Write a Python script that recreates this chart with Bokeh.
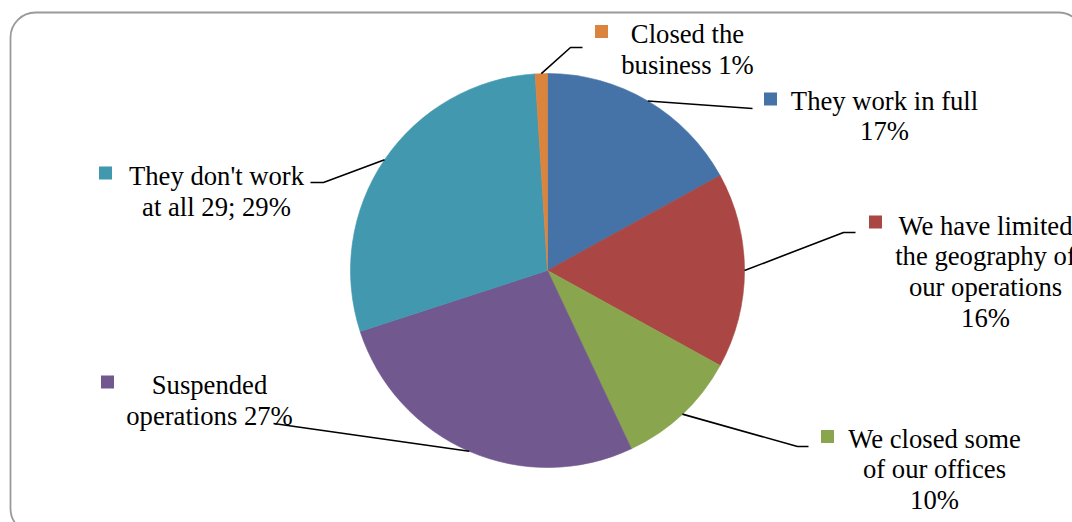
import math
from bokeh.plotting import figure
from bokeh.models import ColumnDataSource, Range1d, BoxAnnotation
from bokeh.core.properties import value
from bokeh.embed import file_html
from bokeh.resources import INLINE

# ---- data (clockwise from 12 o'clock) ----
categories = ["They work in full",
              "We have limited the geography of our operations",
              "We closed some of our offices",
              "Suspended operations",
              "They don't work at all 29;",
              "Closed the business"]
values = [17, 16, 10, 27, 29, 1]
colors = ["#4572A7", "#AA4643", "#89A54E", "#71588F", "#4198AF", "#DB843D"]

# ---- layout ----
W, H = 1072, 522
CX, CY, R = 547, 270, 197          # pixel coords (y down)
words_per_line = [[4, 1], [3, 3, 2, 1], [3, 3, 1], [1, 2], [3, 4], [2, 2]]
label_cx = [884, 985, 934, 209, 216, 687]
label_first_baseline = [100, 225, 438, 384.5, 175.5, 33.5]
line_gap = 30.67
key_pos = [(770, 98.5), (875, 221.5), (827, 436), (107, 381.5), (105, 172.5), (601, 31)]
leader_bends = [[(752, 108)],
                [(843, 232), (855, 232)],
                [(797, 446), (808, 446)],
                [(273, 423)],
                [(323, 182), (310, 182)],
                [(570, 47), (582, 47)]]

def Y(py):
    return H - py

p = figure(width=W, height=H, x_range=Range1d(0, W), y_range=Range1d(0, H),
           toolbar_location=None, output_backend="svg", min_border=0,
           x_axis_location=None, y_axis_location=None)
p.grid.visible = False
p.outline_line_color = None
p.background_fill_color = "white"
p.border_fill_color = "white"

# border (rounded rectangle)
p.add_layout(BoxAnnotation(left=10, right=1083, top=Y(12), bottom=Y(533),
                           fill_alpha=0, line_color="#9a9a9a", line_alpha=1.0,
                           line_width=1.8, border_radius=25))

# pie wedges
total = sum(values)
starts, ends, mids = [], [], []
acc = 0.0
for v in values:
    t0 = acc / total * 2 * math.pi
    acc += v
    t1 = acc / total * 2 * math.pi
    starts.append(math.pi / 2 - t0)
    ends.append(math.pi / 2 - t1)
    mids.append((t0 + t1) / 2)

src = ColumnDataSource(dict(x=[CX] * len(values), y=[Y(CY)] * len(values),
                            start=starts, end=ends, color=colors))
p.wedge(x="x", y="y", radius=R, start_angle="start", end_angle="end",
        direction="clock", fill_color="color", line_color="color",
        line_width=0.6, source=src)

# leader lines
xs, ys = [], []
for th, bends in zip(mids, leader_bends):
    sx = CX + R * math.sin(th)
    sy = CY - R * math.cos(th)
    px = [sx] + [b[0] for b in bends]
    py = [sy] + [b[1] for b in bends]
    xs.append(px)
    ys.append([Y(q) for q in py])
p.multi_line(xs=xs, ys=ys, line_color="black", line_width=1.6)

# legend keys
p.rect(x=[k[0] for k in key_pos], y=[Y(k[1]) for k in key_pos],
       width=13, height=13, fill_color=colors, line_color=None)

# labels
tx, ty, tt = [], [], []
for cat, v, wpl, cx, b0 in zip(categories, values, words_per_line,
                               label_cx, label_first_baseline):
    words = f"{cat} {v}%".split(" ")
    i = 0
    for li, n in enumerate(wpl):
        tt.append(" ".join(words[i:i + n]))
        i += n
        tx.append(cx)
        ty.append(Y(b0 + li * line_gap))
p.text(x=tx, y=ty, text=tt, text_align="center", text_baseline="alphabetic",
       text_font=value("Liberation Serif"),
       text_font_size="20pt", text_color="black")

open("out.html", "w").write(file_html(p, INLINE))
